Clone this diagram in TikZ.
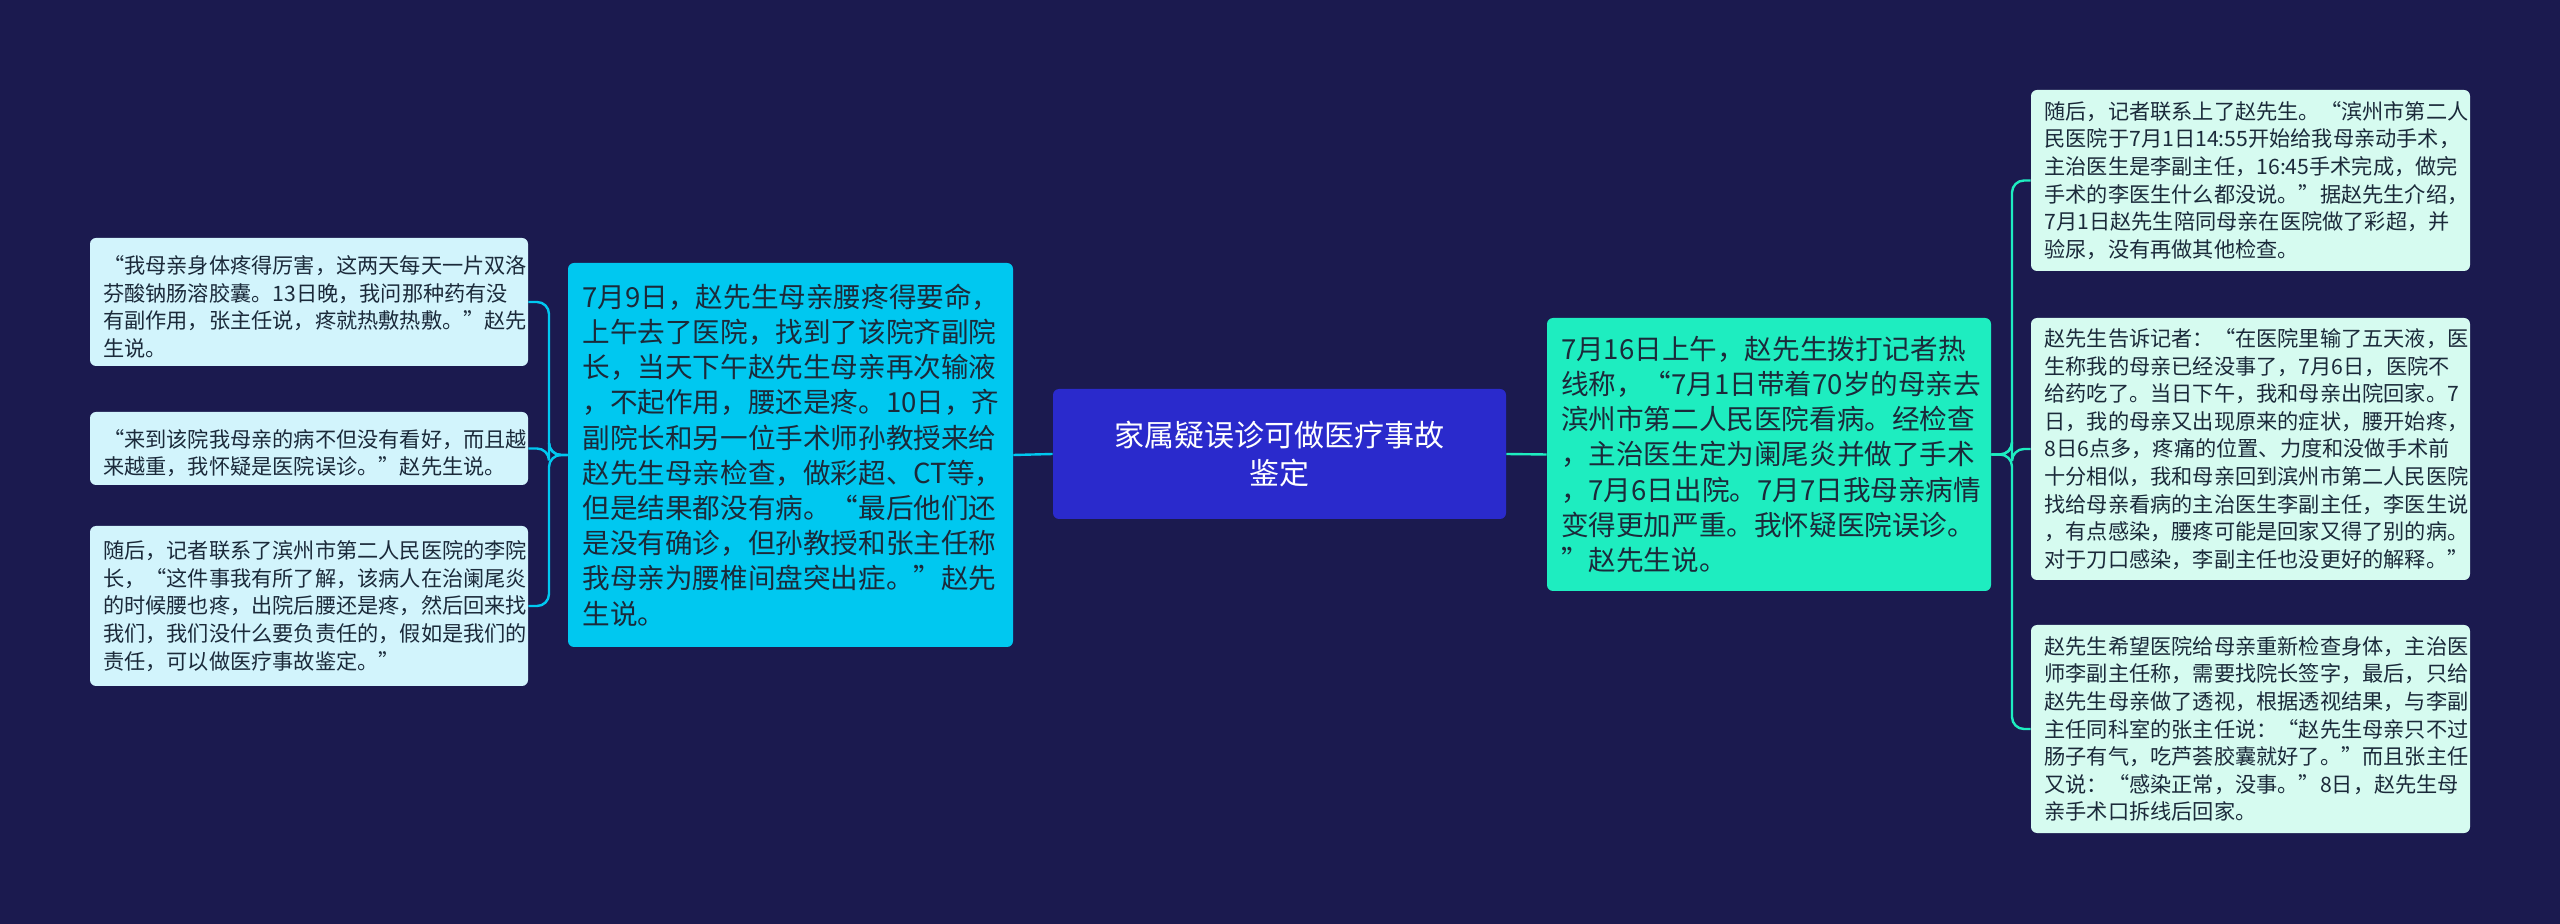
\documentclass[tikz,border=0pt]{standalone}
\usepackage{fontspec}
\setmainfont{Noto Sans CJK SC}
\usetikzlibrary{positioning}
\definecolor{bgnavy}{HTML}{1B1A4F}
\definecolor{rootblue}{HTML}{2A2ACC}
\definecolor{leftcyan}{HTML}{00C8F0}
\definecolor{leftpale}{HTML}{D2F4FC}
\definecolor{rightteal}{HTML}{1EEDC0}
\definecolor{rightpale}{HTML}{D6FBF0}
\definecolor{inkdark}{HTML}{1B2A3A}

\begin{document}
\begin{tikzpicture}[x=0.5pt, y=-0.5pt,
    box/.style={rectangle, rounded corners=3pt, inner sep=0pt, align=left},
    rootbox/.style={box, fill=rootblue, text=white, align=center,
                    font=\fontsize{15}{19}\selectfont},
    mainbox/.style={box, text=inkdark, font=\fontsize{13.8}{17.6}\selectfont},
    leafbox/.style={box, text=inkdark, font=\fontsize{10.6}{13.8}\selectfont},
    link/.style={line width=1.2pt, rounded corners=6pt}
]
  \fill[bgnavy] (0,0) rectangle (2560,924);

  % Root
  \node[rootbox, minimum width=226.5pt, minimum height=65pt, text width=210pt]
    (root) at (1279.5,454) {家属疑误诊可做医疗事故\\鉴定};

  % Left main
  \node[mainbox, fill=leftcyan, minimum width=222.5pt, minimum height=192pt, text width=208pt]
    (lmain) at (790.5,455) {7月9日，赵先生母亲腰疼得要命，\\上午去了医院，找到了该院齐副院\\长，当天下午赵先生母亲再次输液\\，不起作用，腰还是疼。10日，齐\\副院长和另一位手术师孙教授来给\\赵先生母亲检查，做彩超、CT等，\\但是结果都没有病。“最后他们还\\是没有确诊，但孙教授和张主任称\\我母亲为腰椎间盘突出症。”赵先\\生说。};

  % Left leaves
  \node[leafbox, fill=leftpale, minimum width=219pt, minimum height=64pt, text width=206pt]
    (lone) at (309,302) {\ “我母亲身体疼得厉害，这两天每天一片双洛\\芬酸钠肠溶胶囊。13日晚，我问那种药有没\\有副作用，张主任说，疼就热敷热敷。”赵先\\生说。};
  \node[leafbox, fill=leftpale, minimum width=219pt, minimum height=36.5pt, text width=206pt]
    (ltwo) at (309,448.5) {\ “来到该院我母亲的病不但没有看好，而且越\\来越重，我怀疑是医院误诊。”赵先生说。};
  \node[leafbox, fill=leftpale, minimum width=219pt, minimum height=80pt, text width=206pt]
    (lthree) at (309,606) {随后，记者联系了滨州市第二人民医院的李院\\长，“这件事我有所了解，该病人在治阑尾炎\\的时候腰也疼，出院后腰还是疼，然后回来找\\我们，我们没什么要负责任的，假如是我们的\\责任，可以做医疗事故鉴定。”};

  % Right main
  \node[mainbox, fill=rightteal, minimum width=222pt, minimum height=136.5pt, text width=208pt]
    (rmain) at (1769,454.5) {7月16日上午，赵先生拨打记者热\\线称，“7月1日带着70岁的母亲去\\滨州市第二人民医院看病。经检查\\，主治医生定为阑尾炎并做了手术\\，7月6日出院。7月7日我母亲病情\\变得更加严重。我怀疑医院误诊。\\”赵先生说。};

  % Right leaves
  \node[leafbox, fill=rightpale, minimum width=219.5pt, minimum height=90.5pt, text width=206pt]
    (rone) at (2250.5,180.5) {随后，记者联系上了赵先生。“滨州市第二人\\民医院于7月1日14:55开始给我母亲动手术，\\主治医生是李副主任，16:45手术完成，做完\\手术的李医生什么都没说。”据赵先生介绍，\\7月1日赵先生陪同母亲在医院做了彩超，并\\验尿，没有再做其他检查。};
  \node[leafbox, fill=rightpale, minimum width=219.5pt, minimum height=131pt, text width=206pt]
    (rtwo) at (2250.5,449) {赵先生告诉记者：“在医院里输了五天液，医\\生称我的母亲已经没事了，7月6日，医院不\\给药吃了。当日下午，我和母亲出院回家。7\\日，我的母亲又出现原来的症状，腰开始疼，\\8日6点多，疼痛的位置、力度和没做手术前\\十分相似，我和母亲回到滨州市第二人民医院\\找给母亲看病的主治医生李副主任，李医生说\\，有点感染，腰疼可能是回家又得了别的病。\\对于刀口感染，李副主任也没更好的解释。”};
  \node[leafbox, fill=rightpale, minimum width=219.5pt, minimum height=104pt, text width=206pt]
    (rthree) at (2250.5,729) {赵先生希望医院给母亲重新检查身体，主治医\\师李副主任称，需要找院长签字，最后，只给\\赵先生母亲做了透视，根据透视结果，与李副\\主任同科室的张主任说：“赵先生母亲只不过\\肠子有气，吃芦荟胶囊就好了。”而且张主任\\又说：“感染正常，没事。”8日，赵先生母\\亲手术口拆线后回家。};

  % Connectors
  \draw[link, leftcyan] (root.west) -- (lmain.east);
  \draw[link, leftcyan] (lmain.west) -- (549,455) |- (lone.east);
  \draw[link, leftcyan] (lmain.west) -- (549,455) |- (ltwo.east);
  \draw[link, leftcyan] (lmain.west) -- (549,455) |- (lthree.east);
  \draw[link, rightteal] (root.east) -- (rmain.west);
  \draw[link, rightteal] (rmain.east) -- (2012,454.5) |- (rone.west);
  \draw[link, rightteal] (rmain.east) -- (2012,454.5) |- (rtwo.west);
  \draw[link, rightteal] (rmain.east) -- (2012,454.5) |- (rthree.west);
\end{tikzpicture}
\end{document}
